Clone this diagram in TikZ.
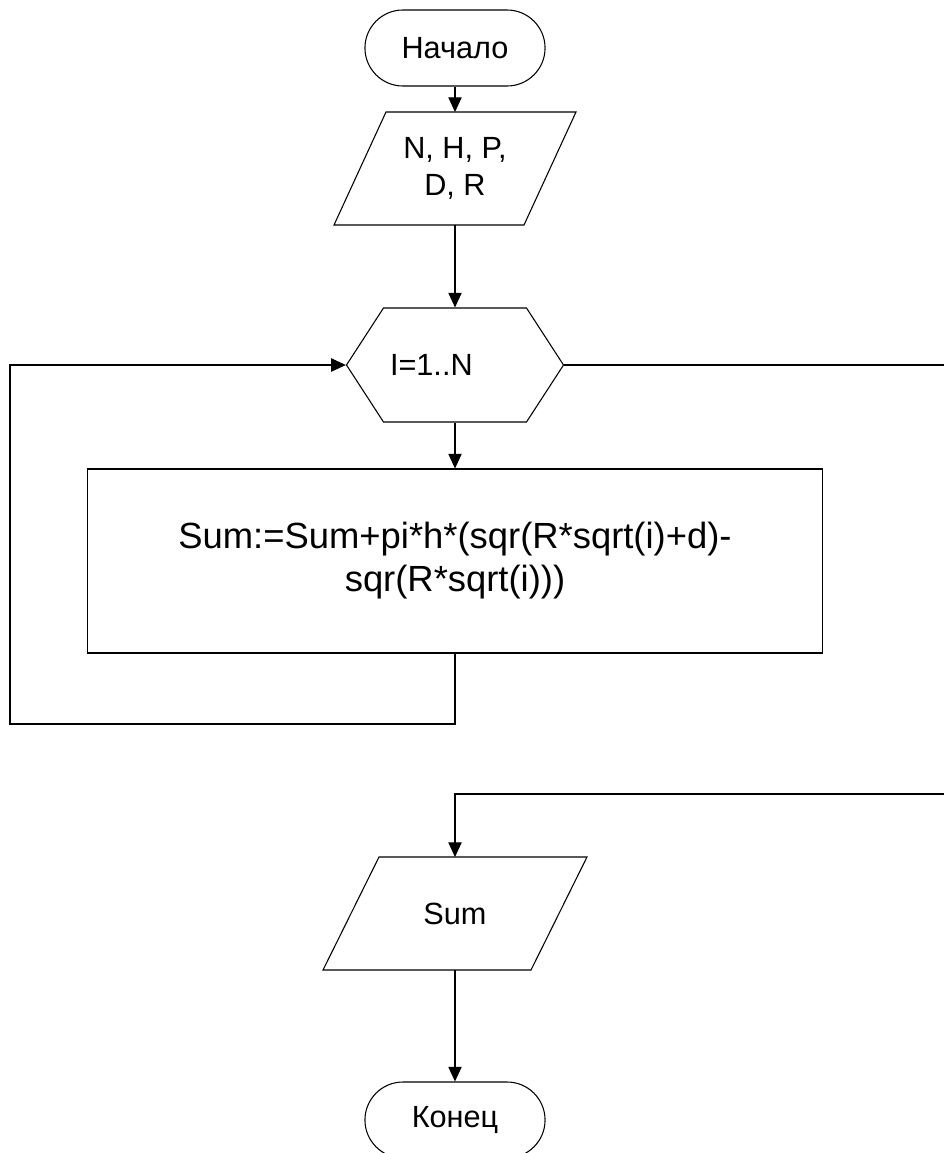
\documentclass[tikz,border=0pt]{standalone}
\usepackage{fontspec}
\setmainfont{Liberation Sans}
\usetikzlibrary{
    arrows.meta,
    shapes.misc,
    shapes.symbols
}

\begin{document}
\begin{tikzpicture}[x=0.75pt, y=-0.75pt,
    line/.style={draw, line width=0.8pt},
    flow/.style={line, -{Triangle[length=11pt, width=10pt]}},
    small/.style={font=\fontsize{23}{27.75}\selectfont},
    term/.style={rounded rectangle, line, small, minimum width=141.75pt, minimum height=57pt},
    iobox/.style={rectangle, small, align=center, inner sep=0pt, outer sep=0pt, minimum height=84.75pt},
    loophead/.style={signal, signal to=west and east, signal pointer angle=114, line, small, minimum height=85.5pt, text width=97.5pt, align=left, inner xsep=4.875pt, inner ysep=0pt},
    proc/.style={rectangle, line, font=\fontsize{27.3}{32.25}\selectfont, align=center, minimum width=551.25pt, minimum height=138pt}]
    \useasboundingbox (0, 0) rectangle (943, 1153);
    \node[term] (start) at (455, 48) {Начало};
    \node[iobox, minimum width=142.5pt] (input) at (455, 168.5) {N, H, P,\\D, R};
    \node[loophead] (loop) at (455, 365) {I=1..N};
    \node[proc] (body) at (455, 561) {Sum:=Sum+pi*h*(sqr(R*sqrt(i)+d)-\\sqr(R*sqrt(i)))};
    \node[iobox, minimum width=156pt] (output) at (455, 913.5) {Sum};
    \node[term] (stop) at (455, 1120) {Конец};
    % slanted sides of the two parallelograms
    \draw[line] ([xshift=19.5pt]input.north west) -- ([xshift=19.5pt]input.north east)
        -- ([xshift=-19.5pt]input.south east) -- ([xshift=-19.5pt]input.south west) -- cycle;
    \draw[line] ([xshift=21pt]output.north west) -- ([xshift=21pt]output.north east)
        -- ([xshift=-21pt]output.south east) -- ([xshift=-21pt]output.south west) -- cycle;
    \coordinate (leftrail) at (10, 724);
    \coordinate (rightrail) at (948, 794);
    \draw[flow] (start.south) -- (input.north);
    \draw[flow] (input.south) -- (loop.north);
    \draw[flow] (loop.south) -- (body.north);
    \draw[flow] (body.south) |- (leftrail) |- (loop.west);
    \draw[flow] (loop.east) -| (rightrail) -| (output.north);
    \draw[flow] (output.south) -- (stop.north);
\end{tikzpicture}
\end{document}
